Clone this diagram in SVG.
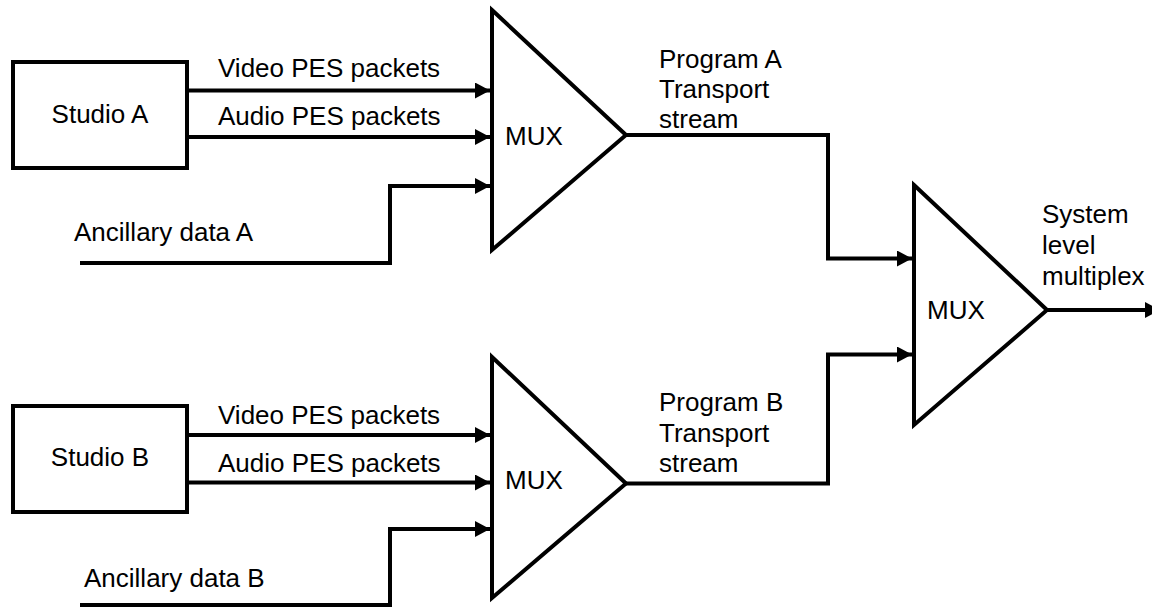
<svg xmlns="http://www.w3.org/2000/svg" width="1152" height="608" viewBox="0 0 1152 608">
<style>
.ln{fill:none;stroke:#000;stroke-width:4;stroke-linejoin:miter}
.nd{fill:#fff;stroke:#000;stroke-width:4;stroke-linejoin:miter}
.t{font-family:"Liberation Sans",Arial,sans-serif;font-size:26px;fill:#000}
.c{text-anchor:middle}
</style>
<defs>
<marker id="ah" markerUnits="userSpaceOnUse" markerWidth="16" markerHeight="18" refX="15" refY="8" orient="auto">
<path d="M0,0 L15,8 L0,16 Z" fill="#000"/>
</marker>
</defs>
<rect width="1152" height="608" fill="#fff"/>
<g id="connectors">
<path class="ln" d="M187,90.5 H490" marker-end="url(#ah)"/>
<path class="ln" d="M187,137 H490" marker-end="url(#ah)"/>
<path class="ln" d="M80,263 H390 V186 H490" marker-end="url(#ah)"/>
<path class="ln" d="M187,435 H490" marker-end="url(#ah)"/>
<path class="ln" d="M187,482.5 H490" marker-end="url(#ah)"/>
<path class="ln" d="M80,605 H390 V529 H490" marker-end="url(#ah)"/>
<path class="ln" d="M626,135 H828 V258.5 H912" marker-end="url(#ah)"/>
<path class="ln" d="M626,483.5 H828 V354.5 H912" marker-end="url(#ah)"/>
<path class="ln" d="M1047,310 H1160" marker-end="url(#ah)"/>
<text class="t" x="218" y="77">Video PES packets</text>
<text class="t" x="218" y="125">Audio PES packets</text>
<text class="t" x="74" y="241">Ancillary data A</text>
<text class="t" x="218" y="424">Video PES packets</text>
<text class="t" x="218" y="472">Audio PES packets</text>
<text class="t" x="84" y="587">Ancillary data B</text>
<text class="t" x="659" y="68">Program A</text>
<text class="t" x="659" y="98">Transport</text>
<text class="t" x="659" y="128">stream</text>
<text class="t" x="659" y="411">Program B</text>
<text class="t" x="659" y="442">Transport</text>
<text class="t" x="659" y="472">stream</text>
<text class="t" x="1042" y="223">System</text>
<text class="t" x="1042" y="254">level</text>
<text class="t" x="1042" y="285">multiplex</text>
</g>
<g id="studioA">
<rect class="nd" x="13" y="62" width="174" height="106"/>
<text class="t c" x="100" y="123">Studio A</text>
</g>
<g id="studioB">
<rect class="nd" x="13" y="406" width="174" height="106"/>
<text class="t c" x="100" y="466">Studio B</text>
</g>
<g id="muxA">
<path class="nd" d="M492,10 L626,135 L492,250 Z"/>
<text class="t" x="505" y="145">MUX</text>
</g>
<g id="muxB">
<path class="nd" d="M492,357 L626,483.5 L492,598 Z"/>
<text class="t" x="505" y="489">MUX</text>
</g>
<g id="muxSys">
<path class="nd" d="M914,185 L1047,310 L914,425 Z"/>
<text class="t" x="927" y="319">MUX</text>
</g>
</svg>
